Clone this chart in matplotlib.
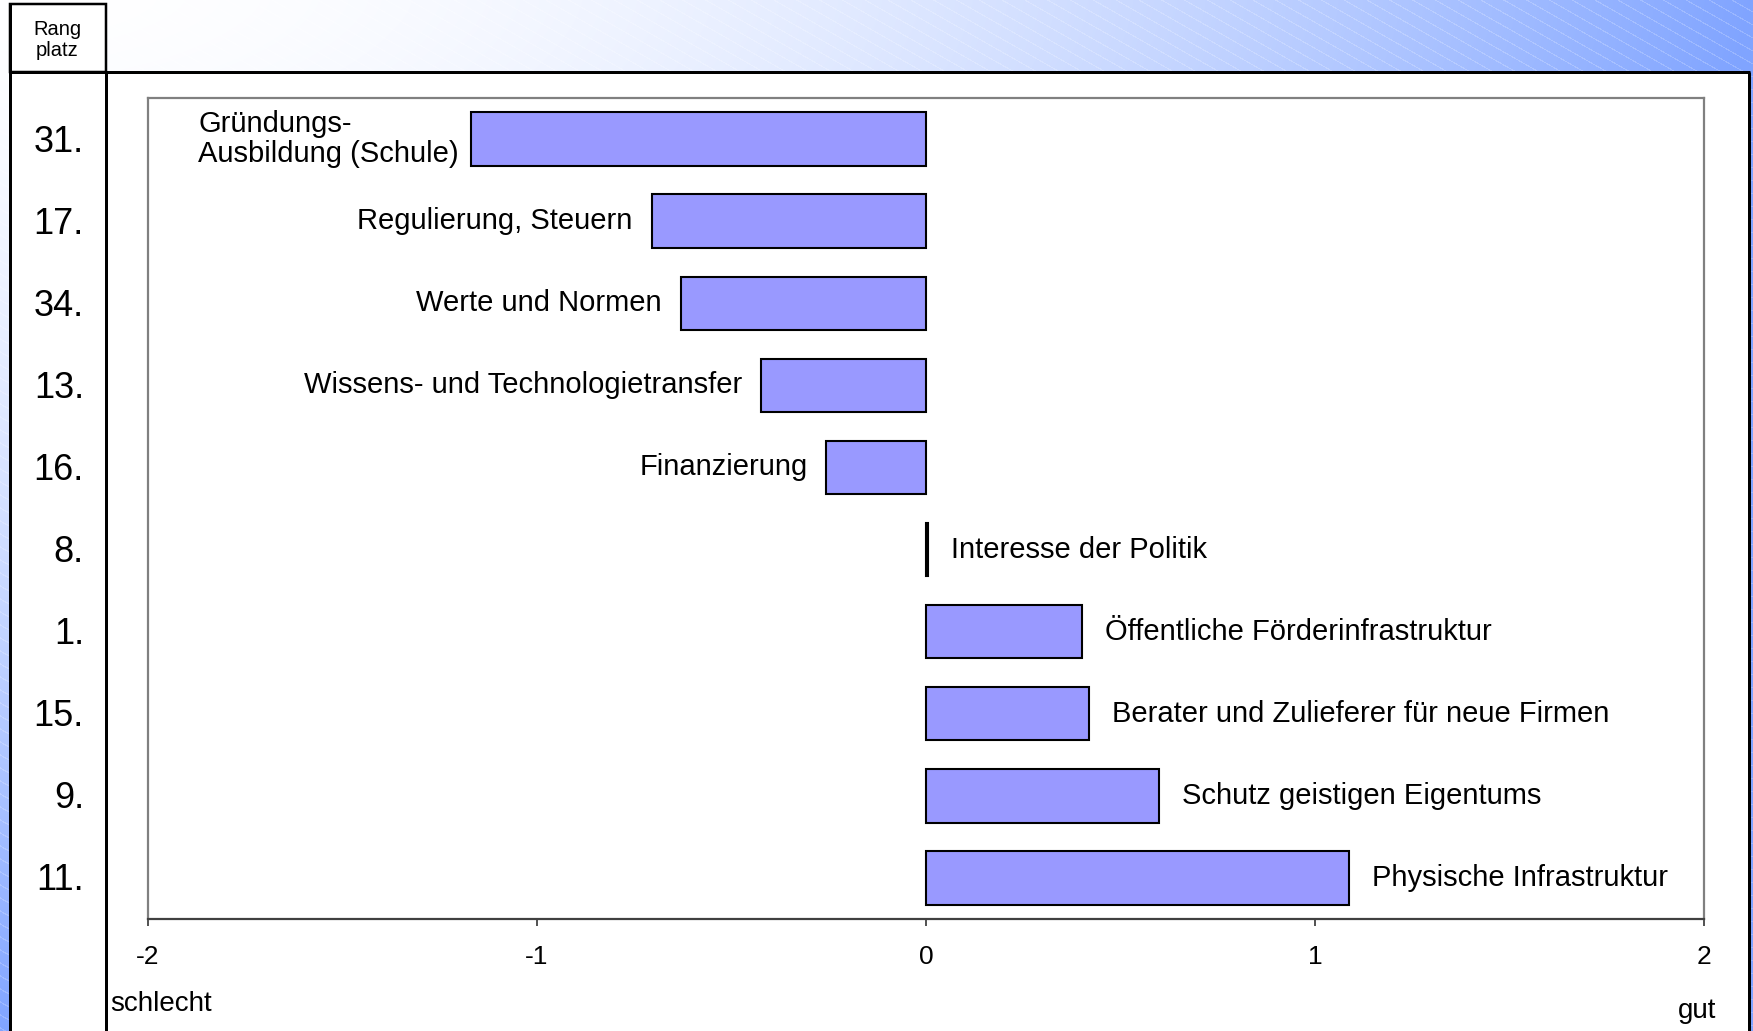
import numpy as np
import matplotlib
matplotlib.use("Agg")
import matplotlib.pyplot as plt
from matplotlib.patches import Rectangle
from matplotlib.lines import Line2D
from matplotlib import transforms

plt.rcParams['font.family'] = ['Liberation Sans', 'DejaVu Sans']

# ---------------- data ----------------
categories = [
    "Gründungs-\nAusbildung (Schule)",
    "Regulierung, Steuern",
    "Werte und Normen",
    "Wissens- und Technologietransfer",
    "Finanzierung",
    "Interesse der Politik",
    "Öffentliche Förderinfrastruktur",
    "Berater und Zulieferer für neue Firmen",
    "Schutz geistigen Eigentums",
    "Physische Infrastruktur",
]
values = [-1.17, -0.705, -0.63, -0.423, -0.256, 0.005, 0.40, 0.42, 0.60, 1.088]
ranks = ["31.", "17.", "34.", "13.", "16.", "8.", "1.", "15.", "9.", "11."]
xticks = [-2, -1, 0, 1, 2]
xtick_labels = ["-2", "-1", "0", "1", "2"]
rank_header = "Rang\nplatz"
left_label = "schlecht"
right_label = "gut"

W, H = 1753, 1031
fig = plt.figure(figsize=(W / 100, H / 100), dpi=100)

# ---------------- background (slide) ----------------
bg = fig.add_axes([0, 0, 1, 1], zorder=0)
bg.set_xlim(0, W)
bg.set_ylim(H, 0)
bg.axis("off")
yy, xx = np.mgrid[0:H, 0:W].astype(float)
t = np.clip((xx / W) ** 2 + (yy / H) ** 1.5, 0, 1)
white = np.array([1.0, 1.0, 1.0])
blue = np.array([0x80, 0xA4, 0xFF]) / 255.0
img = white[None, None, :] * (1 - t[..., None]) + blue[None, None, :] * t[..., None]
stripe = ((yy - 0.57 * xx) % 13) < 1.3
img[stripe] = img[stripe] * 0.8 + 0.2
bg.imshow(img, extent=(0, W, H, 0), aspect="auto", interpolation="nearest", zorder=0)

px = 0.72  # points per pixel
bg.add_patch(Rectangle((10, 72), 1740, H - 72 + 5, facecolor="white", edgecolor="none", zorder=1))
bg.add_patch(Rectangle((10.5, 4), 96, 68, facecolor="white", edgecolor="black", lw=2.5 * px, zorder=2))
for (x0, y0, x1, y1) in [(10.5, 4, 10.5, H + 5), (10, 72, 1750, 72),
                         (1749.5, 72, 1749.5, H + 5), (106.5, 72, 106.5, H + 5)]:
    bg.add_line(Line2D([x0, x1], [y0, y1], color="black", lw=3 * px, zorder=3,
                       solid_capstyle="butt"))
bg.text(57, 40, rank_header, ha="center", va="center", fontsize=14.5, linespacing=1.15, zorder=4)
bg.text(110, 1004, left_label, ha="left", va="center", fontsize=20, zorder=4)
bg.text(1697, 1011, right_label, ha="center", va="center", fontsize=20, zorder=4)

# ---------------- chart ----------------
ax = fig.add_axes([148 / W, 1 - 919 / H, (1704 - 148) / W, (919 - 98) / H], zorder=2)
ax.set_facecolor("white")
ypos = np.arange(len(categories))
ax.barh(ypos, values, height=0.65, color="#9999FF", edgecolor="black", linewidth=1.5, zorder=3)
ax.set_xlim(-2, 2)
ax.set_ylim(len(categories) - 0.5, -0.5)
ax.set_yticks([])
ax.set_xticks(xticks)
ax.set_xticklabels(xtick_labels, fontsize=19)
ax.tick_params(axis="x", direction="out", length=5, width=1.2, color="#333333", pad=13.5)
for side in ["left", "top", "right"]:
    ax.spines[side].set_color("#808080")
    ax.spines[side].set_linewidth(1.6)
ax.spines["bottom"].set_color("#404040")
ax.spines["bottom"].set_linewidth(1.6)

for y, v, lab in zip(ypos, values, categories):
    if v < 0:
        gap = 12 if "\n" in lab else 19
        ax.annotate(lab, xy=(v, y), xytext=(-gap, 0), textcoords="offset pixels",
                    ha="right", va="center", multialignment="left", fontsize=21,
                    linespacing=1.12, zorder=4)
    else:
        ax.annotate(lab, xy=(v, y), xytext=(23, 0), textcoords="offset pixels",
                    ha="left", va="center", fontsize=21, zorder=4)

trans = transforms.blended_transform_factory(bg.transData, ax.transData)
trans = transforms.offset_copy(trans, fig=fig, y=-3, units="dots")
for y, r in zip(ypos, ranks):
    fig.text(84, y, r, transform=trans, ha="right", va="center", fontsize=26, zorder=5)

fig.savefig("out.png", dpi=100)
